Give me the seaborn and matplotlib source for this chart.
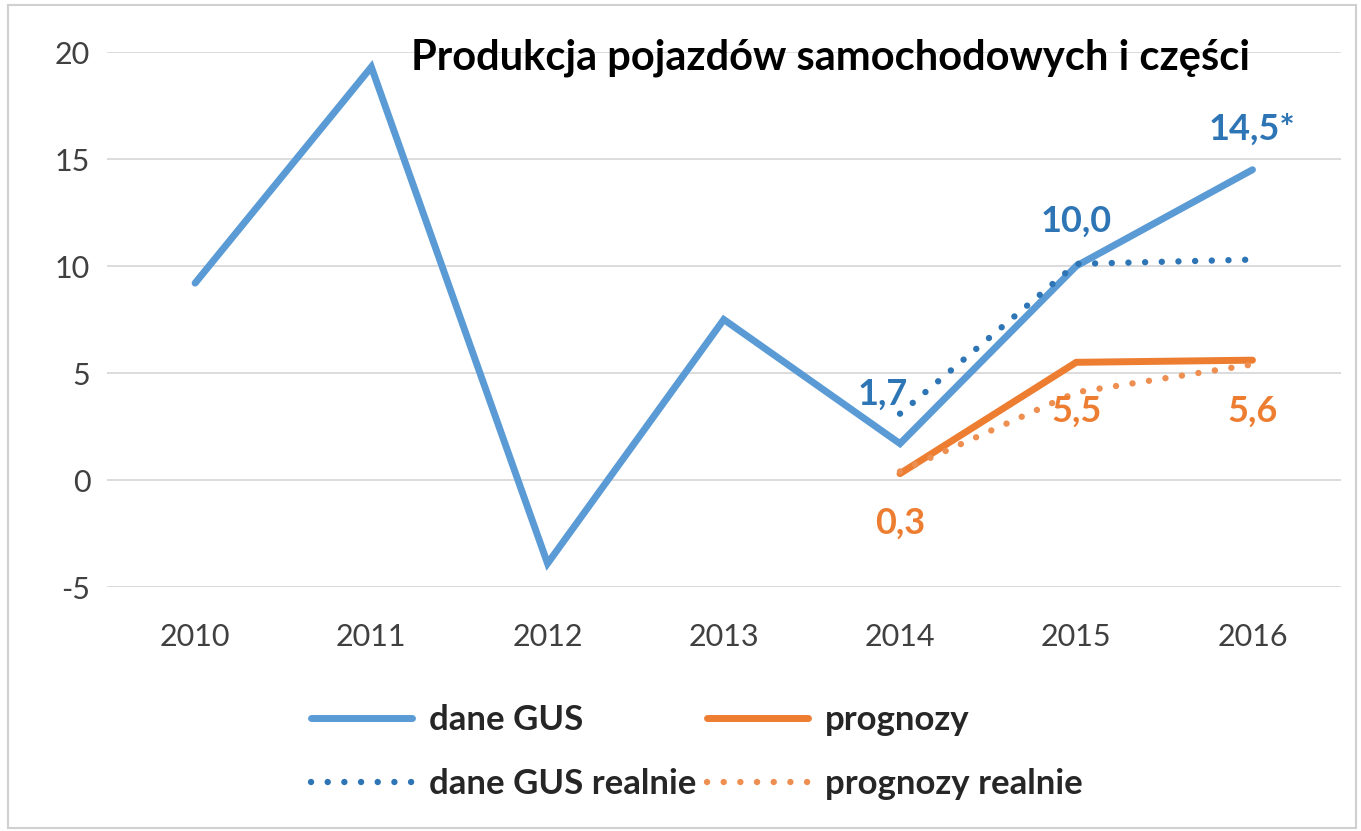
import pandas as pd
import numpy as np
import matplotlib
matplotlib.use("Agg")
import matplotlib.pyplot as plt
import seaborn as sns
from matplotlib.patches import Rectangle

# Data
years = [2010, 2011, 2012, 2013, 2014, 2015, 2016]
gus = [9.2, 19.3, -3.9, 7.5, 1.7, 10.0, 14.5]
prog_years = [2014, 2015, 2016]
prognozy = [0.3, 5.5, 5.6]
gus_real = [3.1, 10.1, 10.3]
prog_real = [0.4, 4.1, 5.4]

gus_labels = ["1,7", "10,0", "14,5*"]
prog_labels = ["0,3", "5,5", "5,6"]

blue = "#5B9BD5"
blue_dark = "#2E75B6"
orange = "#ED7D31"
orange_light = "#EE8F52"

sns.set_theme(style="white")
plt.rcParams['font.family'] = ['Lato', 'DejaVu Sans']
plt.rcParams['axes.unicode_minus'] = False

fig = plt.figure(figsize=(13.61, 8.31), dpi=100)
ax = fig.add_axes([0.0786, 0.2936, 0.9064, 0.6438])

df_gus = pd.DataFrame({"rok": years, "v": gus})
df_prog = pd.DataFrame({"rok": prog_years, "v": prognozy, "gr": gus_real, "pr": prog_real})

sns.lineplot(data=df_gus, x="rok", y="v", ax=ax, color=blue, lw=5,
             label="dane GUS", solid_capstyle="round", solid_joinstyle="miter")
sns.lineplot(data=df_prog, x="rok", y="v", ax=ax, color=orange, lw=5,
             label="prognozy", solid_capstyle="round", solid_joinstyle="miter")
sns.lineplot(data=df_prog, x="rok", y="gr", ax=ax, color=blue_dark, lw=4.6,
             label="dane GUS realnie", dashes=False)
sns.lineplot(data=df_prog, x="rok", y="pr", ax=ax, color=orange_light, lw=4.6,
             label="prognozy realnie", dashes=False)

# dotted style for the "realnie" series
for ln in ax.lines[2:4]:
    ln.set_linestyle((0, (0.01, 2.6)))
    ln.set_dash_capstyle("round")

ax.set_xlim(2009.5, 2016.5)
ax.set_ylim(-5, 20)
ax.set_yticks([-5, 0, 5, 10, 15, 20])
ax.set_xticks(years)
ax.set_xticklabels([str(y) for y in years])
ax.set_xlabel("")
ax.set_ylabel("")
ax.yaxis.grid(True, color="#D9D9D9", lw=1.3)
ax.xaxis.grid(False)
for s in ax.spines.values():
    s.set_visible(False)
ax.tick_params(axis="y", length=0, pad=12, labelsize=22, labelcolor="#404040")
ax.tick_params(axis="x", length=0, pad=26, labelsize=22, labelcolor="#404040")

# data labels
gus_pos = [(2013.9, 4.0), (2015, 12.1), (2016, 16.4)]
for (x, y), t in zip(gus_pos, gus_labels):
    ax.text(x, y, t, color=blue_dark, fontsize=26, fontweight="bold", ha="center", va="center")
prog_pos = [(2014, -2.0), (2015, 3.2), (2016, 3.2)]
for (x, y), t in zip(prog_pos, prog_labels):
    ax.text(x, y, t, color=orange, fontsize=26, fontweight="bold", ha="center", va="center")

fig.text(0.61, 0.93, "Produkcja pojazdów samochodowych i części", fontsize=30,
         fontweight="bold", ha="center", va="center", color="black")

ax.get_legend().remove()
handles, labels = ax.get_legend_handles_labels()
order = [0, 2, 1, 3]
leg = fig.legend([handles[i] for i in order], [labels[i] for i in order], ncol=2,
                 loc="center", bbox_to_anchor=(0.512, 0.095),
                 frameon=False, fontsize=25, handlelength=2.9, columnspacing=0.3,
                 labelspacing=0.9, handletextpad=0.5)
for t in leg.get_texts():
    t.set_fontweight("bold")

fig.patches.append(Rectangle((0.006, 0.004), 0.99, 0.99, transform=fig.transFigure,
                             fill=False, edgecolor="#D0D0D0", lw=1.5))

fig.savefig("out.png", dpi=100)
